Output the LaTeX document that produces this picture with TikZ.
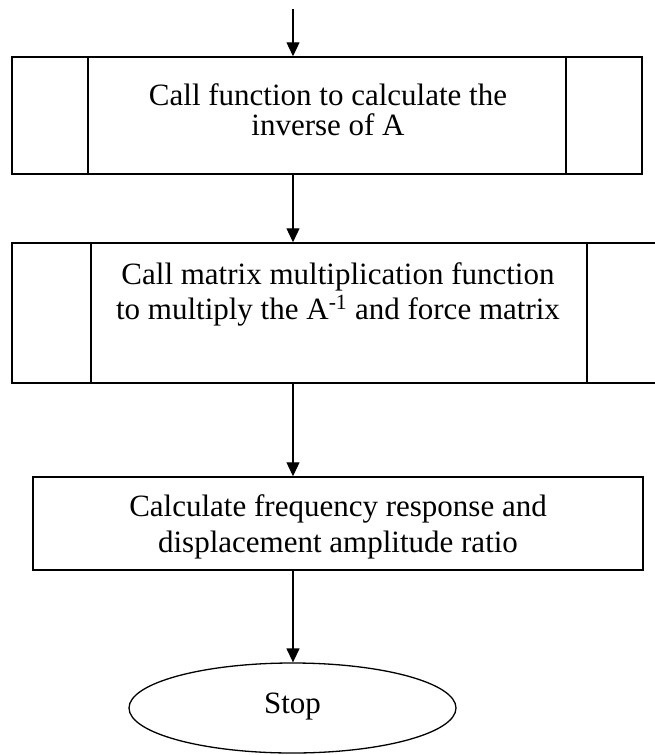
\documentclass[tikz,border=0pt]{standalone}
\usepackage{fontspec}
\setmainfont{Liberation Serif}
\usetikzlibrary{shapes.geometric,arrows.meta}
\begin{document}
\begin{tikzpicture}[x=1pt,y=-1pt,
  boxshape/.style={draw, line width=1.5pt, rectangle, inner sep=0pt, anchor=center},
  lbl/.style={inner sep=0pt, anchor=base, align=center},
  conn/.style={line width=1.3pt, -{Triangle[width=13pt,length=14pt]}},
  innerline/.style={line width=1.5pt}]
\useasboundingbox (0,0) rectangle (655,755);
\clip (0,0) rectangle (655,755);
% boxes
\node[boxshape, minimum width=630pt, minimum height=117pt] (b1) at (327,115.5) {};
\node[boxshape, minimum width=653pt, minimum height=140pt] (b2) at (338.5,313) {};
\node[boxshape, minimum width=610pt, minimum height=93pt] (b3) at (338,523.5) {};
\node[draw, ellipse, line width=1.3pt, minimum width=327pt, minimum height=90pt, inner sep=0pt] (stop) at (292.5,708) {};
% inner vertical lines of predefined-process boxes
\coordinate (b1l) at (88,0);
\coordinate (b1r) at (566,0);
\coordinate (b2l) at (91,0);
\coordinate (b2r) at (587,0);
\draw[innerline] (b1.north -| b1l) -- (b1.south -| b1l);
\draw[innerline] (b1.north -| b1r) -- (b1.south -| b1r);
\draw[innerline] (b2.north -| b2l) -- (b2.south -| b2l);
\draw[innerline] (b2.north -| b2r) -- (b2.south -| b2r);
% texts (anchor base = baseline of last line)
\node[lbl, font=\fontsize{31}{30}\selectfont] (t1) at (328,135) {Call function to calculate the\\inverse of A};
\node[lbl, font=\fontsize{31}{35}\selectfont] (t2) at (338,319) {Call matrix multiplication function\\to multiply the A\textsuperscript{-1} and force matrix};
\node[lbl, font=\fontsize{31}{36}\selectfont] (t3) at (338,552) {Calculate frequency response and\\displacement amplitude ratio};
\node[lbl, font=\fontsize{31}{36}\selectfont] (t4) at (292.5,713) {Stop};
% connectors
\coordinate (ax) at (293,0);
\coordinate (start) at (293,9);
\draw[conn] (start) -- (b1.north -| ax);
\draw[conn] (b1.south -| ax) -- (b2.north -| ax);
\draw[conn] (b2.south -| ax) -- (b3.north -| ax);
\draw[conn] (b3.south -| ax) -- (stop.north -| ax);
\end{tikzpicture}
\end{document}
